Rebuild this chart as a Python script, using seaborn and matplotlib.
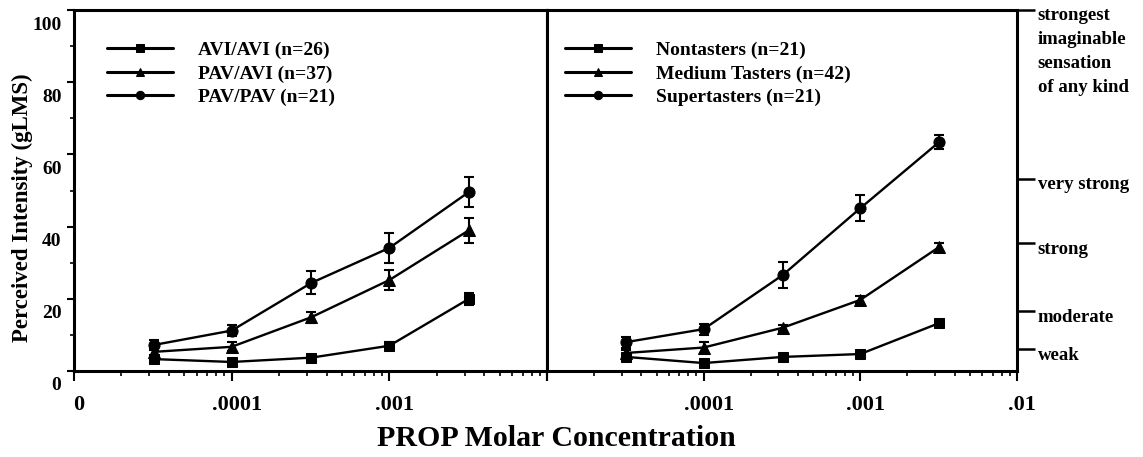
import numpy as np
import pandas as pd
import matplotlib
matplotlib.use("Agg")
import matplotlib.pyplot as plt
import matplotlib.transforms as mtransforms
from matplotlib.ticker import FixedLocator, FixedFormatter, NullFormatter, LogLocator
import seaborn as sns

# ---------------- data ----------------
conc = [3.2e-5, 1e-4, 3.2e-4, 1e-3, 3.2e-3]

left_names = ["AVI/AVI (n=26)", "PAV/AVI (n=37)", "PAV/PAV (n=21)"]
avi_avi = [3.3, 2.5, 3.7, 7.0, 20.0]
avi_avi_err = [0.8, 0.6, 0.8, 1.0, 1.6]
pav_avi = [5.3, 6.7, 14.9, 25.2, 39.0]
pav_avi_err = [1.0, 1.2, 1.5, 2.8, 3.5]
pav_pav = [7.2, 11.2, 24.4, 34.1, 49.6]
pav_pav_err = [1.5, 1.5, 3.2, 4.2, 4.2]

right_names = ["Nontasters (n=21)", "Medium Tasters (n=42)", "Supertasters (n=21)"]
nontasters = [3.9, 2.2, 3.9, 4.7, 13.3]
nontasters_err = [0.8, 0.5, 0.8, 0.6, 0.8]
medium = [5.0, 6.5, 12.0, 19.7, 34.4]
medium_err = [0.8, 1.5, 0.8, 1.0, 1.0]
super_t = [8.0, 11.6, 26.6, 45.1, 63.5]
super_err = [1.5, 1.5, 3.5, 3.6, 2.0]

left_xticks = [1e-5, 1e-4, 1e-3, 1e-2]
left_xticklabels = ["0", ".0001", ".001", ""]
right_xticks = [1e-5, 1e-4, 1e-3, 1e-2]
right_xticklabels = ["", ".0001", ".001", ".01"]
yticks = [0, 20, 40, 60, 80, 100]
glms_ticks = [6, 16.5, 35.4, 53.3, 100]
glms_labels = ["weak", "moderate", "strong", "very strong",
               "strongest\nimaginable\nsensation\nof any kind"]

# ---------------- style ----------------
sns.set_style("ticks")
plt.rcParams["font.family"] = ["Liberation Serif", "DejaVu Serif"]
plt.rcParams["font.weight"] = "bold"
for k in ("text.color", "axes.labelcolor", "xtick.color", "ytick.color",
          "axes.edgecolor"):
    plt.rcParams[k] = "black"

W, H = 1143, 457
fig = plt.figure(figsize=(W / 100, H / 100), dpi=100)
ax1 = fig.add_axes([74 / W, (H - 371) / H, 473 / W, 361 / H])
ax2 = fig.add_axes([547 / W, (H - 371) / H, 470 / W, 361 / H])

markers = ["s", "^", "o"]
msizes = [7, 8, 8]

def draw_panel(ax, names, vals, errs):
    for name, v, e, m, ms in zip(names, vals, errs, markers, msizes):
        df = pd.DataFrame({"conc": conc, "val": v})
        sns.lineplot(data=df, x="conc", y="val", ax=ax, color="black",
                     marker=m, markersize=ms, markeredgecolor="black",
                     linewidth=1.7, label=name, errorbar=None)
        ax.errorbar(conc, v, yerr=e, fmt="none", ecolor="black",
                    elinewidth=1.5, capsize=3.5, capthick=1.5)
    ax.set_xscale("log")
    ax.set_xlim(1e-5, 1e-2)
    ax.set_ylim(0, 100)
    ax.set_xlabel("")
    ax.set_ylabel("")
    for s in ax.spines.values():
        s.set_linewidth(2.2)
        s.set_visible(True)
        s.set_color("black")
    ax.xaxis.set_minor_locator(LogLocator(base=10, subs=np.arange(2, 10)))
    ax.xaxis.set_minor_formatter(NullFormatter())
    ax.tick_params(axis="x", which="major", direction="out", length=7,
                   width=1.5, pad=10, labelsize=16)
    ax.tick_params(axis="x", which="minor", direction="out", length=3.5,
                   width=1.2)

draw_panel(ax1, left_names, [avi_avi, pav_avi, pav_pav],
           [avi_avi_err, pav_avi_err, pav_pav_err])
draw_panel(ax2, right_names, [nontasters, medium, super_t],
           [nontasters_err, medium_err, super_err])

# x ticks
ax1.xaxis.set_major_locator(FixedLocator(left_xticks))
ax1.xaxis.set_major_formatter(FixedFormatter(left_xticklabels))
ax2.xaxis.set_major_locator(FixedLocator(right_xticks))
ax2.xaxis.set_major_formatter(FixedFormatter(right_xticklabels))

# left y axis
ax1.yaxis.set_major_locator(FixedLocator(yticks))
ax1.yaxis.set_major_formatter(FixedFormatter([str(t) for t in yticks]))
ax1.yaxis.set_minor_locator(FixedLocator([10, 30, 50, 70, 90]))
ax1.tick_params(axis="y", which="major", direction="out", length=5,
                width=1.5, pad=4, labelsize=14)
ax1.tick_params(axis="y", which="minor", direction="out", length=3, width=1.2)
ax1.tick_params(axis="y", right=False)

# right panel: gLMS labels on right
ax2.yaxis.tick_right()
ax2.yaxis.set_major_locator(FixedLocator(glms_ticks))
ax2.yaxis.set_major_formatter(FixedFormatter(glms_labels))
ax2.yaxis.set_minor_locator(FixedLocator([]))
ax2.tick_params(axis="y", which="major", direction="out", length=13,
                width=1.8, pad=2, labelsize=13.5, left=False)

# offsets for tick labels (as in the reference)
off_y = mtransforms.ScaledTranslation(0, -13 / 100, fig.dpi_scale_trans)
for lab in ax1.get_yticklabels():
    lab.set_transform(lab.get_transform() + off_y)
off_x = mtransforms.ScaledTranslation(5 / 100, 0, fig.dpi_scale_trans)
for ax in (ax1, ax2):
    for lab in ax.get_xticklabels():
        lab.set_transform(lab.get_transform() + off_x)
off_r = mtransforms.ScaledTranslation(0, -4 / 100, fig.dpi_scale_trans)
for lab in ax2.get_yticklabels():
    if lab.get_text().startswith("strongest"):
        lab.set_verticalalignment("top")
        lab.set_linespacing(1.55)
        lab.set_transform(lab.get_transform() + mtransforms.ScaledTranslation(0, 3 / 100, fig.dpi_scale_trans))
    else:
        lab.set_transform(lab.get_transform() + off_r)

for ax in (ax1, ax2):
    for lab in ax.get_xticklabels() + ax.get_yticklabels():
        lab.set_fontweight("bold")
        lab.set_color("black")

# legends
for ax, x0 in ((ax1, (107 - 74) / 473), (ax2, (565 - 547) / 470)):
    leg = ax.legend(loc="upper left", bbox_to_anchor=(x0, 0.913),
                    frameon=False, handlelength=3.4,
                    handletextpad=1.3, labelspacing=0.3, borderpad=0,
                    borderaxespad=0, prop={"weight": "bold", "size": 14})
    for h in leg.legend_handles:
        h.set_linewidth(2.2)
        h.set_markersize(6)
    for t in leg.get_texts():
        t.set_color("black")

fig.text(556 / W, 1 - 439 / H, "PROP Molar Concentration", ha="center",
         va="center", fontsize=21.5, fontweight="bold")
fig.text(22 / W, 1 - 208 / H, "Perceived Intensity (gLMS)", ha="center",
         va="center", rotation=90, fontsize=16.5, fontweight="bold")

fig.savefig("out.png", dpi=100)
